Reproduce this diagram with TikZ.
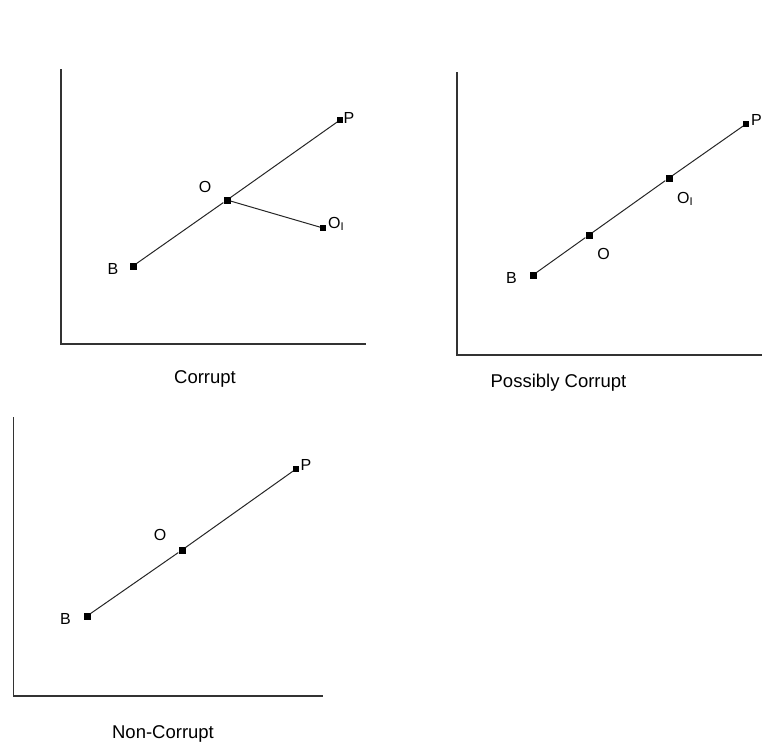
\documentclass[tikz,border=0pt]{standalone}
\usepackage{fontspec}
\setmainfont{Liberation Sans}
\begin{document}
\begin{tikzpicture}[x=1pt,y=-1pt,
  pnt/.style={rectangle, fill=black, minimum size=7pt, inner sep=0pt},
  smallpnt/.style={pnt, minimum size=5.5pt},
  lbl/.style={inner sep=0pt, font=\fontsize{16}{16}\selectfont},
  sublbl/.style={inner sep=0pt, anchor=base west, font=\fontsize{16}{16}\selectfont},
  captext/.style={inner sep=0pt, anchor=base, font=\fontsize{18.5}{18.5}\selectfont},
  axisline/.style={line width=1.5pt, draw=black!80},
  seg/.style={line width=1pt, draw=black!85}]
\useasboundingbox (0,0) rectangle (762,745);

% ---------- Panel 1: Corrupt ----------
\coordinate (a1top) at (61,69);
\coordinate (a1org) at (61,344);
\coordinate (a1end) at (366,344);
\draw[axisline] (a1top) -- (a1org) -- (a1end);
\node[pnt] (B1) at (133,266) {};
\node[pnt] (O1) at (227,200) {};
\node[smallpnt] (P1) at (340,120) {};
\node[smallpnt] (Q1) at (323,228) {};
\draw[seg] (B1) -- (O1) -- (P1);
\draw[seg] (O1) -- (Q1);
\node[lbl] (B1l) at (113,269) {B};
\node[lbl] (O1l) at (205,186.5) {O};
\node[lbl] (P1l) at (349,118) {P};
\node[sublbl] (Q1l) at (328,228) {O\textsubscript{I}};
\node[captext] (C1) at (205,383) {Corrupt};

% ---------- Panel 2: Possibly Corrupt ----------
\coordinate (a2top) at (457,72);
\coordinate (a2org) at (457,355);
\coordinate (a2end) at (770,355);
\draw[axisline] (a2top) -- (a2org) -- (a2end);
\node[pnt] (B2) at (533,275) {};
\node[pnt] (O2) at (589,235) {};
\node[pnt] (Q2) at (669,178) {};
\node[smallpnt] (P2) at (746,124) {};
\draw[seg] (B2) -- (O2) -- (Q2) -- (P2);
\node[lbl] (B2l) at (511.5,277.5) {B};
\node[lbl] (O2l) at (603.5,253.5) {O};
\node[sublbl] (Q2l) at (677,203) {O\textsubscript{I}};
\node[lbl, anchor=west] (P2l) at (751,120) {P};
\node[captext] (C2) at (558.5,387) {Possibly Corrupt};

% ---------- Panel 3: Non-Corrupt ----------
\coordinate (a3top) at (13.5,417);
\coordinate (a3org) at (13.5,696);
\coordinate (a3end) at (323,696);
\draw[axisline] (a3top) -- (a3org) -- (a3end);
\node[pnt] (B3) at (87,616) {};
\node[pnt] (O3) at (182,550) {};
\node[smallpnt] (P3) at (296,469) {};
\draw[seg] (B3) -- (O3) -- (P3);
\node[lbl] (B3l) at (65.5,619) {B};
\node[lbl] (O3l) at (160,535) {O};
\node[lbl] (P3l) at (306,465) {P};
\node[captext] (C3) at (163,738) {Non-Corrupt};
\end{tikzpicture}
\end{document}
